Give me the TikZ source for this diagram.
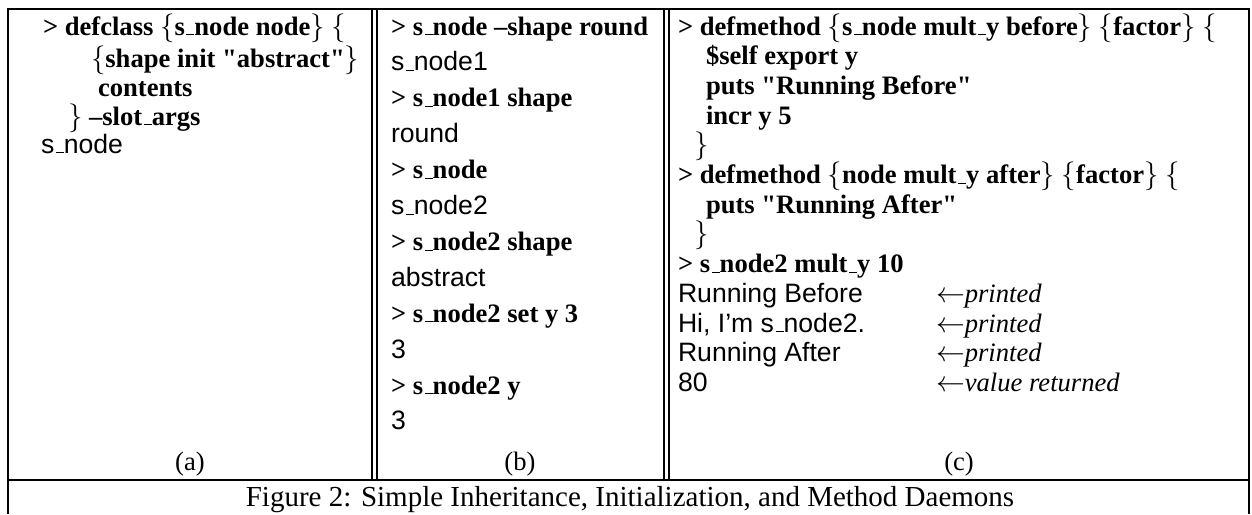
\documentclass[tikz,border=0pt]{standalone}
\usepackage{fontspec}
\setmainfont{Liberation Serif}
\setsansfont{Liberation Sans}
\usetikzlibrary{positioning}

% underscore drawn as a short rule on the baseline
\newcommand{\usc}{\leavevmode\kern.06em\vbox{\hrule width.3em}}
% math braces that do not stretch the line box
\newcommand{\lbr}{$\smash{\{}$}
\newcommand{\rbr}{$\smash{\}}$}

\begin{document}
\begin{tikzpicture}[x=0.5pt, y=-0.5pt, line width=1pt,
  typed/.style={anchor=base west, inner sep=0pt, font=\fontsize{13.3}{15}\selectfont\bfseries},
  reply/.style={anchor=base west, inner sep=0pt, font=\fontsize{13.3}{15}\selectfont\sffamily},
  note/.style={anchor=base west, inner sep=0pt, font=\fontsize{13.3}{15}\selectfont\itshape},
  sub/.style={anchor=base, inner sep=0pt, font=\fontsize{13.3}{15}\selectfont},
  capt/.style={anchor=base, inner sep=0pt, font=\fontsize{14.5}{17}\selectfont}]

\useasboundingbox (0,0) rectangle (1252,514);

% Sizes
\def\firsty{35}
\def\rowa{29.7}
\def\rowb{35.9}

% Frame, rules and the two double bars
\draw (8,514) -- (8,9) -- (1249,9) -- (1249,514);
\draw (8,480) -- (1249,480);
\foreach \x in {372,377,664,669} {
  \draw (\x,9) -- (\x,480);
}

% (a) class definition
\foreach \i/\y/\sty/\x/\txt in {
0/35/typed/42/{> defclass \lbr s\usc node node\rbr{} \lbr},
1/67/typed/90/{\lbr shape init \textquotedbl abstract\textquotedbl\rbr},
2/96/typed/97/contents,
3/125/typed/67/{\rbr{} --slot\usc args},
4/153/reply/40/s\usc node
} {
  \node[style=\sty] (a\i) at (\x,\y) {\txt};
}

% (b) instances
\foreach \i/\sty/\txt in {
0/typed/{> s\usc node --shape round},
1/reply/s\usc node1,
2/typed/{> s\usc node1 shape},
3/reply/round,
4/typed/{> s\usc node},
5/reply/s\usc node2,
6/typed/{> s\usc node2 shape},
7/reply/abstract,
8/typed/{> s\usc node2 set y 3},
9/reply/3,
10/typed/{> s\usc node2 y},
11/reply/3
} {
  \node[style=\sty] (b\i) at (390,\firsty+\i*\rowb) {\txt};
}

% (c) method daemons
\foreach \i/\sty/\x/\txt in {
0/typed/677/{> defmethod \lbr s\usc node mult\usc y before\rbr{} \lbr factor\rbr{} \lbr},
1/typed/705/{\$self export y},
2/typed/705/{puts \textquotedbl Running Before\textquotedbl},
3/typed/705/{incr y 5},
4/typed/693/{\rbr},
5/typed/677/{> defmethod \lbr node mult\usc y after\rbr{} \lbr factor\rbr{} \lbr},
6/typed/705/{puts \textquotedbl Running After\textquotedbl},
7/typed/693/{\rbr},
8/typed/677/{> s\usc node2 mult\usc y 10},
9/reply/677/{Running Before},
{10/reply/677/Hi, I'm s\usc node2.},
11/reply/677/{Running After},
12/reply/677/80
} {
  \node[style=\sty] (c\i) at (\x,\firsty+\i*\rowa) {\txt};
}

% what the calls print
\foreach \i/\txt in {9/printed, 10/printed, 11/printed, 12/value returned} {
  \node[note] (n\i) at (935,\firsty+\i*\rowa) {$\leftarrow$\txt};
}

% Sub-figure letters
\node[sub] (la) at (190,470) {(a)};
\node[sub] (lb) at (520,470) {(b)};
\node[sub] (lc) at (959,470) {(c)};

% Caption
\node[capt] (cap) at (630,506) {Figure 2: Simple Inheritance, Initialization, and Method Daemons};

\end{tikzpicture}
\end{document}
